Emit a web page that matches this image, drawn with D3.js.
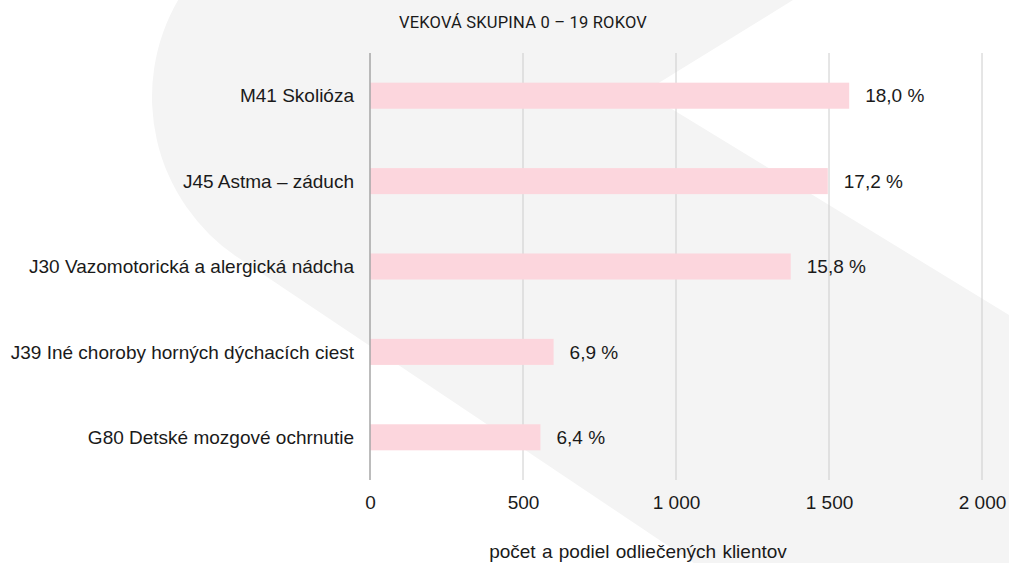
<!DOCTYPE html>
<html lang="sk">
<head>
<meta charset="utf-8">
<script src="https://cdn.jsdelivr.net/npm/d3@7"></script>
<style>
  html, body { margin: 0; padding: 0; background: #ffffff; }
  svg { display: block; }
</style>
</head>
<body>
<svg id="chart" width="1009" height="563"></svg>
<script>
// Diagnózy s najvyšším počtom odliečených klientov, veková skupina 0 – 19 rokov
const categories = [
  "M41 Skolióza",
  "J45 Astma – záduch",
  "J30 Vazomotorická a alergická nádcha",
  "J39 Iné choroby horných dýchacích ciest",
  "G80 Detské mozgové ochrnutie"
];
const clients = [1566, 1496, 1375, 600, 557];
const shares = [18.0, 17.2, 15.8, 6.9, 6.4];
const tickValues = [0, 500, 1000, 1500, 2000];

const title = "VEKOVÁ SKUPINA 0 – 19 ROKOV";
const axisTitle = "počet a podiel odliečených klientov";

const W = 1009, H = 563;
const margin = { top: 53, right: 27, bottom: 83, left: 370 };

const svg = d3.select("#chart");

// Decorative background mark: a large rounded shape with two diagonal strokes
(function drawBackdrop() {
  const cx = 345, cy = 97, r = 193;
  const slope = 0.67;
  const ang = Math.atan(slope);
  const tx = cx - r * Math.sin(ang), ty = cy + r * Math.cos(ang);
  const topX = cx - Math.sqrt(r * r - cy * cy);
  const bottomX = tx + (H - ty) / slope;
  const p = d3.path();
  p.moveTo(topX, 0);
  const a0 = Math.atan2(0 - cy, topX - cx);
  const a1 = Math.atan2(ty - cy, tx - cx);
  p.arc(cx, cy, r, a0, a1, true);
  p.lineTo(bottomX, H);
  p.lineTo(W, H);
  p.lineTo(W, 315);
  p.lineTo(644, 92);
  p.lineTo(793, 0);
  p.closePath();
  svg.append("path").attr("d", p.toString()).attr("fill", "#f4f4f4");
})();

const x = d3.scaleLinear()
  .domain([0, 2000])
  .range([margin.left, W - margin.right]);

const y = d3.scaleBand()
  .domain(categories)
  .range([margin.top, H - margin.bottom])
  .paddingInner(0.695)
  .paddingOuter(0.3475);

const fmtTick = v => d3.format(",")(v).replace(/,/g, " ");
const fmtShare = v => d3.format(".1f")(v).replace(".", ",") + " %";

const textFont = "'Liberation Sans', Arial, sans-serif";
const fontSize = 19;

// Vertical gridlines
svg.append("g")
  .selectAll("line")
  .data(tickValues.filter(v => v > 0))
  .join("line")
  .attr("x1", d => x(d)).attr("x2", d => x(d))
  .attr("y1", margin.top).attr("y2", H - margin.bottom)
  .attr("stroke", "#cccccc")
  .attr("stroke-width", 1);

// Bars
svg.append("g")
  .selectAll("rect")
  .data(categories)
  .join("rect")
  .attr("x", x(0))
  .attr("y", d => y(d))
  .attr("width", (d, i) => x(clients[i]) - x(0))
  .attr("height", y.bandwidth())
  .attr("fill", "#fcd6dd");

// Baseline at zero
svg.append("line")
  .attr("x1", x(0)).attr("x2", x(0))
  .attr("y1", margin.top).attr("y2", H - margin.bottom)
  .attr("stroke", "#a6a6a6")
  .attr("stroke-width", 1.5);

// Category labels
svg.append("g")
  .selectAll("text")
  .data(categories)
  .join("text")
  .attr("x", x(0) - 16)
  .attr("y", d => y(d) + y.bandwidth() / 2)
  .attr("dy", "0.35em")
  .attr("text-anchor", "end")
  .attr("font-family", textFont)
  .attr("font-size", fontSize)
  .attr("fill", "#1a1a1a")
  .text(d => d);

// Share labels at bar ends
svg.append("g")
  .selectAll("text")
  .data(categories)
  .join("text")
  .attr("x", (d, i) => x(clients[i]) + 16)
  .attr("y", d => y(d) + y.bandwidth() / 2)
  .attr("dy", "0.35em")
  .attr("font-family", textFont)
  .attr("font-size", fontSize)
  .attr("fill", "#1a1a1a")
  .text((d, i) => fmtShare(shares[i]));

// Value axis
const xAxis = d3.axisBottom(x)
  .tickValues(tickValues)
  .tickSize(0)
  .tickPadding(0)
  .tickFormat(fmtTick);

const gx = svg.append("g")
  .attr("transform", `translate(0, ${H - margin.bottom + 22})`)
  .call(xAxis);
gx.select(".domain").remove();
gx.selectAll("text")
  .attr("y", 0)
  .attr("dy", "0.35em")
  .attr("font-family", textFont)
  .attr("font-size", fontSize)
  .attr("fill", "#1a1a1a");

// Axis title
svg.append("text")
  .attr("x", 638)
  .attr("y", 558)
  .attr("text-anchor", "middle")
  .attr("font-family", textFont)
  .attr("font-size", fontSize)
  .attr("word-spacing", 1)
  .attr("fill", "#1a1a1a")
  .text(axisTitle);

// Chart title
svg.append("text")
  .attr("x", 523)
  .attr("y", 28)
  .attr("text-anchor", "middle")
  .attr("font-family", "Roboto, 'Noto Sans', sans-serif")
  .attr("font-size", 16.5)
  .attr("font-weight", 400)
  .attr("letter-spacing", 0.2)
  .attr("fill", "#1a1a1a")
  .text(title);
</script>
</body>
</html>
